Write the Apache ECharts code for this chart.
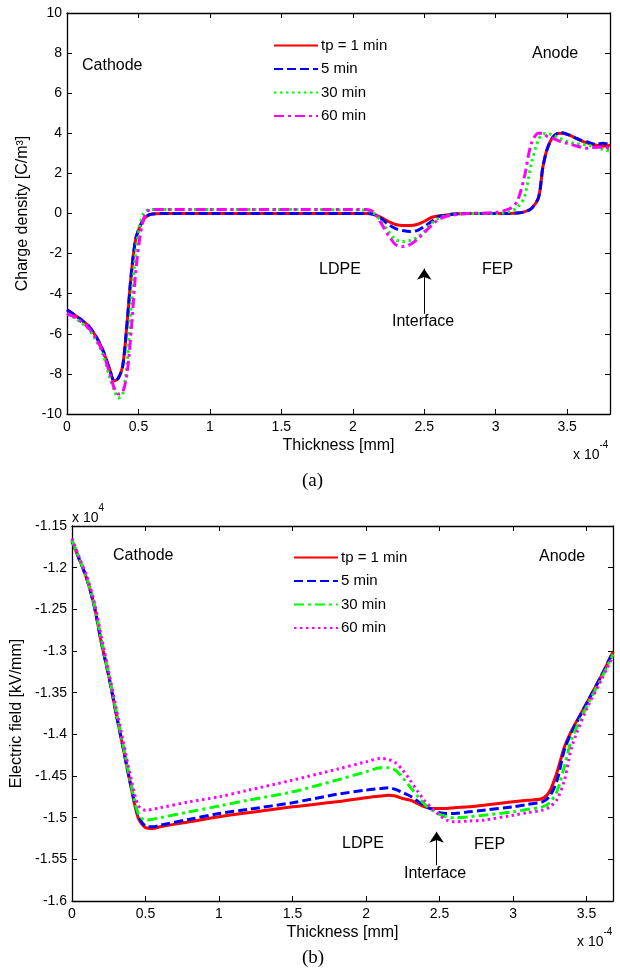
<!DOCTYPE html>
<html>
<head>
<meta charset="utf-8">
<script src="https://cdn.jsdelivr.net/npm/echarts@6/dist/echarts.min.js"></script>
<style>
html,body{margin:0;padding:0;background:#fff;}
#chart{width:620px;height:972px;}
</style>
</head>
<body>
<div id="chart"></div>
<script>
// ---------- DATA ----------
var seriesNames = ['tp = 1 min', '5 min', '30 min', '60 min'];

// (a) Charge density [C/m^3] vs thickness (x 1e-4 mm)
var xTop = [0, 0.05, 0.1, 0.15, 0.2, 0.25, 0.3, 0.33, 0.36, 0.39, 0.42, 0.45, 0.48, 0.51, 0.54, 0.57, 0.6, 0.7, 1.0, 1.5, 2.0, 2.1, 2.15, 2.2, 2.25, 2.3, 2.35, 2.4, 2.45, 2.5, 2.55, 2.6, 2.65, 2.7, 2.8, 3.0, 3.1, 3.15, 3.2, 3.25, 3.3, 3.33, 3.36, 3.4, 3.45, 3.5, 3.55, 3.6, 3.65, 3.7, 3.75, 3.8];
var rho1 = [-4.8, -5.05, -5.3, -5.6, -6.1, -6.8, -7.8, -8.35, -8.2, -7.6, -5.5, -3.0, -1.3, -0.65, -0.25, -0.08, -0.02, 0, 0, 0, 0, 0, -0.05, -0.2, -0.4, -0.55, -0.6, -0.6, -0.55, -0.4, -0.2, -0.12, -0.08, -0.03, 0, 0, 0, 0.02, 0.08, 0.25, 0.8, 2.3, 3.2, 3.8, 4.0, 3.95, 3.8, 3.62, 3.5, 3.42, 3.35, 3.4];
var rho5 = [-4.8, -5.05, -5.3, -5.6, -6.1, -6.8, -7.8, -8.35, -8.2, -7.6, -5.5, -3.0, -1.3, -0.65, -0.25, -0.08, -0.02, 0, 0, 0, 0, 0, -0.05, -0.25, -0.55, -0.75, -0.85, -0.9, -0.85, -0.65, -0.4, -0.15, -0.1, -0.04, 0, 0, 0, 0.02, 0.08, 0.25, 0.8, 2.3, 3.2, 3.8, 4.05, 3.95, 3.8, 3.65, 3.55, 3.45, 3.5, 3.45];
var rho30 = [-5.0, -5.2, -5.45, -5.75, -6.3, -7.0, -8.2, -8.8, -9.2, -9.0, -7.5, -4.5, -2.0, -0.6, 0.05, 0.18, 0.2, 0.2, 0.2, 0.2, 0.18, 0.15, 0.0, -0.4, -0.9, -1.3, -1.4, -1.35, -1.2, -0.9, -0.5, -0.25, -0.12, -0.05, 0, 0, 0.1, 0.3, 0.8, 2.5, 3.7, 3.95, 4.0, 3.9, 3.75, 3.6, 3.5, 3.45, 3.4, 3.3, 3.2, 3.1];
var rho60 = [-5.0, -5.15, -5.4, -5.7, -6.2, -6.9, -8.0, -8.7, -9.0, -8.9, -8.0, -5.8, -3.0, -1.2, -0.2, 0.15, 0.2, 0.2, 0.2, 0.2, 0.2, 0.2, 0.05, -0.5, -1.1, -1.55, -1.65, -1.55, -1.3, -0.95, -0.6, -0.3, -0.15, -0.08, 0, 0.05, 0.25, 0.6, 1.8, 3.5, 4.0, 4.0, 3.85, 3.75, 3.6, 3.5, 3.4, 3.3, 3.25, 3.3, 3.3, 3.25];

// (b) Electric field [kV/mm] (x 1e4) vs thickness (x 1e-4 mm)
var xBot = [0, 0.05, 0.1, 0.15, 0.2, 0.25, 0.3, 0.35, 0.4, 0.45, 0.5, 0.55, 0.6, 0.8, 1.0, 1.2, 1.5, 1.8, 2.0, 2.1, 2.15, 2.2, 2.25, 2.3, 2.35, 2.4, 2.45, 2.5, 2.55, 2.6, 2.7, 2.8, 3.0, 3.1, 3.2, 3.25, 3.3, 3.35, 3.4, 3.5, 3.6, 3.68];
var e1 = [-1.168, -1.19, -1.213, -1.245, -1.29, -1.33, -1.375, -1.418, -1.462, -1.5, -1.512, -1.513, -1.511, -1.505, -1.499, -1.494, -1.487, -1.481, -1.476, -1.474, -1.473, -1.474, -1.477, -1.479, -1.483, -1.487, -1.489, -1.489, -1.489, -1.488, -1.487, -1.485, -1.481, -1.479, -1.477, -1.468, -1.445, -1.415, -1.395, -1.363, -1.33, -1.301];
var e5 = [-1.168, -1.19, -1.213, -1.245, -1.29, -1.33, -1.375, -1.418, -1.461, -1.497, -1.51, -1.511, -1.509, -1.502, -1.495, -1.49, -1.482, -1.472, -1.467, -1.465, -1.464, -1.466, -1.47, -1.474, -1.48, -1.486, -1.49, -1.494, -1.495, -1.495, -1.493, -1.491, -1.487, -1.484, -1.481, -1.474, -1.455, -1.418, -1.397, -1.363, -1.33, -1.301];
var e30 = [-1.167, -1.189, -1.212, -1.243, -1.287, -1.328, -1.372, -1.415, -1.458, -1.495, -1.503, -1.502, -1.5, -1.493, -1.486, -1.479, -1.469, -1.455, -1.445, -1.44, -1.44, -1.443, -1.452, -1.463, -1.474, -1.484, -1.491, -1.496, -1.499, -1.5, -1.499, -1.497, -1.493, -1.49, -1.487, -1.482, -1.468, -1.438, -1.405, -1.367, -1.333, -1.304];
var e60 = [-1.165, -1.188, -1.21, -1.24, -1.283, -1.325, -1.368, -1.41, -1.452, -1.485, -1.491, -1.49, -1.488, -1.481, -1.475, -1.467, -1.455, -1.442, -1.433, -1.429, -1.43, -1.434, -1.443, -1.455, -1.468, -1.48, -1.489, -1.497, -1.503, -1.505, -1.504, -1.503, -1.497, -1.494, -1.491, -1.487, -1.478, -1.455, -1.415, -1.37, -1.335, -1.306];

// Tick settings
var xTopRange = [0, 3.8], yTopRange = [-10, 10];
var xBotRange = [0, 3.68], yBotRange = [-1.6, -1.15];

// Interface arrows (data coordinates)
var arrowTop = [[2.5, -5.0], [2.5, -2.75]];
var arrowBot = [[2.48, -1.557], [2.48, -1.517]];

// ---------- CHART ----------
function pairs(xs, ys) { return xs.map(function (x, i) { return [x, ys[i]]; }); }
var FONT = 'Liberation Sans, Arial, sans-serif';
var colors = ['#ff0000', '#0000ff', '#00ff00', '#ff00ff'];
var dashTop = ['solid', [9, 4], [2.5, 3.5], [10, 4, 3, 4]];
var dashBot = ['solid', [9, 4], [10, 4, 3, 4], [2.5, 3.5]];

function axisBase(extra) {
  var o = {
    type: 'value',
    axisLine: { show: true, onZero: false, lineStyle: { color: '#000', width: 1.3 } },
    axisTick: { show: true, inside: true, length: 5, lineStyle: { color: '#000' } },
    axisLabel: { color: '#000', fontFamily: FONT, fontSize: 14 },
    splitLine: { show: false }
  };
  for (var k in extra) o[k] = extra[k];
  return o;
}
function numFmt(v) { return String(parseFloat(Number(v).toFixed(3))); }

var chart = echarts.init(document.getElementById('chart'), null, { renderer: 'canvas' });

var series = [];
var dataTop = [rho1, rho5, rho30, rho60];
var dataBot = [e1, e5, e30, e60];
for (var i = 0; i < 4; i++) {
  var s = {
    name: 'a:' + seriesNames[i], type: 'line', xAxisIndex: 0, yAxisIndex: 0,
    data: pairs(xTop, dataTop[i]), symbol: 'none', smooth: 0.3, z: 2 + i,
    lineStyle: { color: colors[i], width: 3, type: dashTop[i] }, itemStyle: { color: colors[i] }
  };
  if (i === 0) {
    s.markLine = {
      silent: true, symbol: ['none', 'arrow'], symbolSize: 11, label: { show: false },
      lineStyle: { color: '#000', width: 1, type: 'solid' },
      data: [[{ coord: arrowTop[0] }, { coord: arrowTop[1] }]]
    };
  }
  series.push(s);
}
for (var j = 0; j < 4; j++) {
  var t = {
    name: 'b:' + seriesNames[j], type: 'line', xAxisIndex: 2, yAxisIndex: 2,
    data: pairs(xBot, dataBot[j]), symbol: 'none', smooth: 0.3, z: 2 + j,
    lineStyle: { color: colors[j], width: 3, type: dashBot[j] }, itemStyle: { color: colors[j] }
  };
  if (j === 0) {
    t.markLine = {
      silent: true, symbol: ['none', 'arrow'], symbolSize: 11, label: { show: false },
      lineStyle: { color: '#000', width: 1, type: 'solid' },
      data: [[{ coord: arrowBot[0] }, { coord: arrowBot[1] }]]
    };
  }
  series.push(t);
}

function legendFor(prefix, left, top) {
  return {
    orient: 'vertical', left: left, top: top, itemWidth: 44, itemHeight: 14, itemGap: 8.5,
    data: seriesNames.map(function (n) { return prefix + n; }),
    formatter: function (n) { return n.replace(/^[ab]:/, ''); },
    itemStyle: { opacity: 0 },
    textStyle: { color: '#000', fontFamily: FONT, fontSize: 15, padding: [0, 0, 0, -2] },
    selectedMode: false, padding: 0, backgroundColor: 'transparent'
  };
}

function txt(x, y, s, size, extra) {
  var o = { type: 'text', left: x, top: y, silent: true,
    style: { text: s, fontFamily: FONT, fontSize: size || 16, fill: '#000' } };
  if (extra) for (var k in extra) o.style[k] = extra[k];
  return o;
}
function sciLabel(x, y, exp) {
  return { type: 'text', left: x, top: y, silent: true,
    style: { rich: { b: { fontFamily: FONT, fontSize: 14, fill: '#000', padding: [8, 0, 0, 0] }, s: { fontFamily: FONT, fontSize: 10, fill: '#000', verticalAlign: 'top' } },
      text: '{b|x 10}{s|' + exp + '}', fill: '#000' } };
}

var option = {
  animation: false,
  backgroundColor: '#fff',
  grid: [
    { left: 67, top: 13, width: 543, height: 401 },
    { left: 72, top: 526, width: 541, height: 375 }
  ],
  xAxis: [
    axisBase({ gridIndex: 0, min: xTopRange[0], max: xTopRange[1], interval: 0.5, position: 'bottom',
      axisLabel: { color: '#000', fontFamily: FONT, fontSize: 14, margin: 6, showMaxLabel: false, formatter: numFmt },
      name: 'Thickness [mm]', nameLocation: 'middle', nameGap: 24,
      nameTextStyle: { color: '#000', fontFamily: FONT, fontSize: 16 } }),
    axisBase({ gridIndex: 0, min: xTopRange[0], max: xTopRange[1], interval: 0.5, position: 'top', axisLabel: { show: false } }),
    axisBase({ gridIndex: 1, min: xBotRange[0], max: xBotRange[1], interval: 0.5, position: 'bottom',
      axisLabel: { color: '#000', fontFamily: FONT, fontSize: 14, margin: 6, showMaxLabel: false, formatter: numFmt },
      name: 'Thickness [mm]', nameLocation: 'middle', nameGap: 24,
      nameTextStyle: { color: '#000', fontFamily: FONT, fontSize: 16 } }),
    axisBase({ gridIndex: 1, min: xBotRange[0], max: xBotRange[1], interval: 0.5, position: 'top', axisLabel: { show: false } })
  ],
  yAxis: [
    axisBase({ gridIndex: 0, min: yTopRange[0], max: yTopRange[1], interval: 2, position: 'left',
      axisLabel: { color: '#000', fontFamily: FONT, fontSize: 14, margin: 5, formatter: numFmt },
      name: 'Charge density [C/m³]', nameLocation: 'middle', nameGap: 32,
      nameTextStyle: { color: '#000', fontFamily: FONT, fontSize: 16 } }),
    axisBase({ gridIndex: 0, min: yTopRange[0], max: yTopRange[1], interval: 2, position: 'right', axisLabel: { show: false } }),
    axisBase({ gridIndex: 1, min: yBotRange[0], max: yBotRange[1], interval: 0.05, position: 'left',
      axisLabel: { color: '#000', fontFamily: FONT, fontSize: 14, margin: 5, formatter: numFmt },
      name: 'Electric field [kV/mm]', nameLocation: 'middle', nameGap: 45,
      nameTextStyle: { color: '#000', fontFamily: FONT, fontSize: 16 } }),
    axisBase({ gridIndex: 1, min: yBotRange[0], max: yBotRange[1], interval: 0.05, position: 'right', axisLabel: { show: false } })
  ],
  legend: [legendFor('a:', 273, 38), legendFor('b:', 293, 550)],
  series: series,
  graphic: [
    txt(82, 58, 'Cathode'),
    txt(532, 46, 'Anode'),
    txt(319, 262, 'LDPE'),
    txt(482, 262, 'FEP'),
    txt(392, 314, 'Interface'),
    txt(113, 548, 'Cathode'),
    txt(539, 549, 'Anode'),
    txt(342, 836, 'LDPE'),
    txt(474, 837, 'FEP'),
    txt(404, 866, 'Interface'),
    sciLabel(573, 440, '-4'),
    sciLabel(577, 927, '-4'),
    sciLabel(72, 503, '4'),
    txt(302, 472, '(a)', 19, { fontFamily: 'Liberation Serif, Times New Roman, serif' }),
    txt(302, 949, '(b)', 19, { fontFamily: 'Liberation Serif, Times New Roman, serif' })
  ]
};
chart.setOption(option);
</script>
</body>
</html>
